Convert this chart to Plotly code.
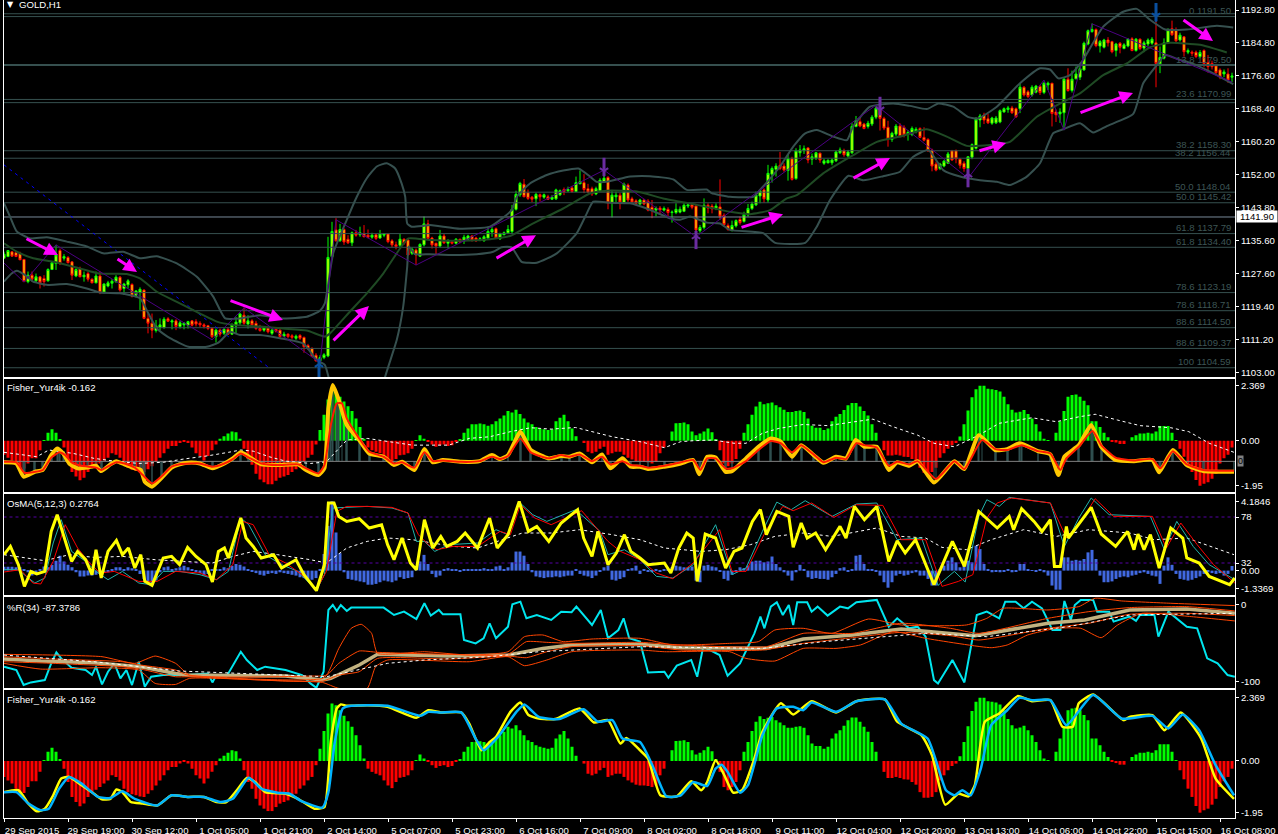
import plotly.graph_objects as go

W, H = 1278, 834
FONT = "Liberation Sans"
SLATE = "#36504f"
TXT = 9.6

time_labels = ["29 Sep 2015", "29 Sep 19:00", "30 Sep 12:00", "1 Oct 05:00", "1 Oct 21:00", "2 Oct 14:00", "5 Oct 07:00",
               "5 Oct 23:00", "6 Oct 16:00", "7 Oct 09:00", "8 Oct 02:00", "8 Oct 18:00", "9 Oct 11:00", "12 Oct 04:00",
               "12 Oct 20:00", "13 Oct 13:00", "14 Oct 06:00", "14 Oct 22:00", "15 Oct 15:00", "16 Oct 08:00"]
time_ticks = [0, 16, 32, 48, 64, 80, 96, 112, 128, 144, 160, 176, 192, 208, 224, 240, 256, 272, 288, 304]

directions = ("GGRRRRGRGR" "RGGGRGRRGR" "GRRGRGGGGR" "GGRGGRRRGG" "GRGRGGGRRR" "RRRGRGRGGG" "RGRRRGRGRR" "GRRGRRRRRG"
              "GGGRGRRGRG" "RRGRGGRRRG" "RRGRGGRRRG" "RGRGRGGRRG" "GGGRGGGGGG" "RRRGRGRGGG" "RGRGGRRRGG" "GRGGRGRRRG"
              "RRRGRGRGGG" "GGRRGGRRGR" "RRGGRGGGGG" "RGGGRRGRGG" "GRGGRGGGGG" "RGGGRRGGGR" "RRGGRRGGGR" "RRRRGGGRRR"
              "RGGGGRRGGG" "GGRRGRRGGR" "GGRRGGRGGG" "GGGRGGRRGR" "GGRGRGGGRG" "GGRRGRGRRG" "RRRRRGRG")
body_tops = [1132.7,1133.6,1133.3,1133.1,1132.9,1131.4,1127.5,1127.5,1127.1,1127.1,
 1126.7,1128.9,1130.6,1132.5,1133.6,1132.1,1131.9,1130.8,1128.9,1129.2,
 1127.5,1127.9,1126.5,1127.3,1127.3,1125.3,1125.6,1126,1127,1127,
 1125.3,1126.1,1125.2,1123.6,1124,1123.8,1116.8,1115.6,1114.9,1115.2,
 1116.6,1116.7,1116.2,1116.2,1115.7,1115.6,1116,1116.2,1116,1115.6,
 1115.2,1115,1114.3,1113.9,1113.9,1114.1,1114.1,1115.2,1115.9,1117.9,
 1117.6,1116.2,1116.2,1115.6,1114.3,1114.6,1114.4,1113.9,1114.1,1113.9,
 1112.9,1112.9,1112.5,1112.4,1112.6,1112.1,1110.1,1109.4,1107.7,1107.1,
 1107.8,1131.9,1138.3,1138.7,1138.8,1138.8,1136.4,1138,1138,1138,
 1137.7,1137.4,1137.4,1137.5,1137.7,1137.7,1137.7,1136,1135,1136.4,
 1136.4,1136.2,1133.9,1133.7,1135.1,1140.2,1140.2,1136.7,1135.4,1137.2,
 1137.2,1136,1135.8,1136.4,1136.4,1136.9,1137.2,1137.2,1136.7,1136.5,
 1137,1138.3,1138.8,1139,1137.7,1138,1138.8,1143.8,1147.5,1150.2,
 1150,1147.9,1146.8,1147.5,1147.4,1147.4,1146.9,1146.8,1148.6,1148.4,
 1148.7,1148.7,1149.1,1150.4,1150.6,1150.4,1148.9,1148.9,1148.9,1151,
 1151.5,1151.7,1147.3,1147.3,1147.3,1150,1149.8,1146.4,1145.9,1146.1,
 1146.1,1145.8,1144.3,1144.1,1144.1,1144,1143.8,1143.1,1143.8,1143.8,
 1144.8,1144.9,1144.9,1144.6,1139.3,1144.8,1144.8,1144.6,1144.6,1144.4,
 1142.3,1139.8,1139.8,1141,1141.3,1142.5,1144,1145.1,1147.3,1148.4,
 1148.6,1152.7,1153.9,1154.5,1154.7,1154.5,1156.3,1156.3,1158.3,1158.5,
 1158.8,1159,1156.8,1157.8,1157.7,1155.8,1155.9,1156,1158,1158.5,
 1158.3,1158,1164.3,1165.7,1165.5,1164.9,1165.1,1166.6,1168.8,1168.8,
 1166.3,1164.1,1162.6,1164.4,1164.4,1164.1,1162.8,1163.8,1163.6,1163.8,
 1161.6,1161.1,1158.5,1155,1155,1155.7,1157.5,1158.3,1158.3,1156.2,
 1155.2,1156.8,1159.8,1166.1,1166.9,1167.1,1166.2,1166.4,1166.4,1168.2,
 1168.7,1168.9,1168.9,1168.7,1174,1174,1172.9,1174,1174.3,1174.2,
 1175,1175,1175,1167.9,1167.9,1176,1176,1176,1177.3,1178.6,
 1184.9,1188,1188.3,1188.3,1185.3,1185.7,1185.7,1185.3,1184.7,1184.9,
 1184.5,1185.9,1186,1185.9,1185.9,1185,1185.7,1185.9,1185,1181.4,
 1185,1188.2,1188.5,1188.3,1186.9,1186.5,1183.1,1182.7,1182.7,1182.6,
 1183.1,1180.1,1179.9,1179.3,1178.3,1177.8,1177.3,1176.8]
body_bottoms = [1131.7,1132.1,1132.2,1132.1,1131.3,1125.9,1125.9,1126.5,1126.1,1125.6,
 1125.9,1126.1,1128.9,1130.4,1130.4,1131.7,1130.6,1127.5,1127.3,1127.1,
 1127.1,1126.5,1125.6,1125.6,1123.2,1123.3,1124.8,1125.5,1125.9,1123.8,
 1124.2,1125.1,1122.3,1122.5,1123.3,1116.8,1115.6,1113.9,1113.8,1114.6,
 1114.5,1116.1,1115.9,1114.8,1114.8,1115.2,1115.1,1115.1,1115.4,1115.2,
 1114.8,1114.3,1112.3,1112.3,1112.9,1113.1,1112.9,1112.9,1114.9,1115.7,
 1115.6,1115.4,1115.2,1114.3,1113.8,1113.9,1113.5,1113.1,1113.6,1112.3,
 1112.4,1112.3,1112.1,1111.9,1111.9,1109.8,1109.3,1107.5,1106.3,1106.3,
 1107.1,1107.5,1132.1,1136,1136,1135.7,1135.5,1135.5,1137.4,1137.5,
 1137,1136.9,1136.9,1136.6,1136.7,1137.4,1135.8,1135,1134.6,1134.9,
 1135.4,1132.5,1132.9,1132.5,1132.2,1135,1136.6,1135,1134.7,1134.7,
 1135.5,1135.4,1135.4,1135.4,1135.7,1135.9,1136.4,1136.2,1136,1136.2,
 1136,1136.7,1138.2,1136.7,1136.5,1137.5,1138,1138.3,1143.8,1147.4,
 1146.9,1146.5,1146.3,1146.4,1146.9,1146.8,1146.3,1146.3,1146.4,1147.4,
 1148.2,1148.4,1148.2,1148.2,1150.1,1148.7,1148.1,1147.6,1147.6,1148.4,
 1150.6,1145.4,1145.4,1146.9,1145.6,1145.4,1146.1,1145.6,1145.3,1145.1,
 1145.1,1143.6,1143.5,1143.6,1143.6,1143.6,1143,1143,1143,1143.1,
 1143.3,1144.6,1144.3,1138.7,1138.5,1139.3,1144.1,1143.9,1144.1,1142.1,
 1140,1138.8,1138.5,1139.7,1140.5,1140.8,1142.4,1144,1144.9,1147.1,
 1146.4,1146.1,1152.5,1153.7,1153.9,1153.5,1153.4,1151.2,1151.4,1157.8,
 1158.3,1156,1156.2,1156.5,1156,1155.2,1155.3,1155.3,1155.8,1157.8,
 1157.3,1157,1157.8,1164.3,1164.4,1163.8,1164.3,1164.9,1166.6,1166.3,
 1163.9,1161.2,1161.1,1162.4,1161.8,1162.2,1162.4,1162.3,1163,1161.6,
 1160.9,1158.3,1154.5,1153.5,1153.9,1154.5,1155.2,1156,1156.3,1154.7,
 1153.9,1153.9,1156.7,1158.9,1165.9,1165.9,1165.2,1165.1,1165.2,1165.4,
 1167.9,1168.5,1167.7,1166.7,1168.7,1172.1,1171.7,1172.1,1172.8,1172.7,
 1172.7,1174.6,1167.5,1167.2,1167.4,1167.7,1173.2,1173.2,1176.1,1176.5,
 1178.3,1184.7,1187.8,1184.3,1184.2,1183.9,1185,1182.8,1183.1,1183.9,
 1183.6,1184.2,1183.1,1183.1,1183.6,1183.7,1184.7,1184.9,1179.9,1179.8,
 1181.2,1184.9,1187,1185.5,1185.7,1182.8,1182.7,1182.4,1181.6,1181.6,
 1179.9,1179.1,1179.1,1177.6,1176.5,1177.3,1175.8,1176.5]
highs = [1133.3,1133.7,1133.3,1133.1,1133.3,1131.4,1128.4,1128.4,1127.9,1127.3,
 1127.5,1129.2,1130.8,1135,1134.1,1132.7,1132.2,1130.8,1129.2,1129.6,
 1128.4,1128.4,1126.7,1128.4,1128.4,1125.5,1126.1,1126.5,1127.5,1127.3,
 1125.6,1126.5,1125.5,1123.8,1124.5,1124,1118,1118,1116.4,1116.8,
 1117.1,1117.1,1116.6,1116.6,1116.2,1115.9,1116.2,1116.4,1116.6,1116.1,
 1115.6,1115.2,1114.6,1114.3,1114.3,1114.6,1114.6,1115.6,1117.2,1118.2,
 1119.5,1117.6,1116.6,1116.2,1115.2,1114.9,1114.8,1114.3,1114.3,1114.1,
 1113.5,1113.1,1112.9,1112.8,1112.9,1112.3,1110.5,1109.6,1108.2,1107.7,
 1108.2,1137,1140.7,1141.6,1140.2,1139.1,1137.4,1138.3,1138.7,1139.5,
 1139.9,1138.8,1138,1137.9,1138.7,1137.9,1137.9,1136.4,1135.8,1137.7,
 1136.6,1136.4,1134.4,1134.1,1135.4,1142,1141.2,1137,1135.5,1138.7,
 1137.7,1136.4,1136,1136.7,1136.5,1137.5,1137.5,1137.4,1137,1136.9,
 1137.4,1139.5,1139.8,1139.3,1138,1138.3,1139.9,1144.9,1148.4,1150.6,
 1151.3,1148.7,1147.1,1147.9,1147.7,1147.7,1147.4,1147.3,1148.9,1148.7,
 1149.2,1149.4,1149.6,1151.9,1153.4,1152.5,1150.1,1149.4,1149.4,1151.5,
 1153.5,1152,1148.6,1148.2,1147.9,1150.4,1150.2,1146.9,1146.3,1146.4,
 1146.4,1146.3,1146.1,1144.5,1144.6,1144.5,1144.3,1143.5,1145.3,1144.5,
 1145.3,1145.4,1145.3,1145.1,1139.9,1146.5,1145.3,1145.1,1145.3,1151.2,
 1142.8,1140.3,1141,1141.3,1142,1143.2,1145.1,1145.7,1148.2,1148.7,
 1149,1154.8,1154.4,1155.2,1158,1155.2,1157.5,1156.8,1158.9,1159.7,
 1159.6,1159.1,1157.6,1158,1157.8,1156.3,1156.2,1156.4,1158.3,1159.1,
 1158.8,1158.5,1165.1,1166.9,1166.7,1165.2,1165.7,1167.1,1169.6,1170.4,
 1166.7,1165.7,1163,1164.9,1165.1,1164.6,1163.4,1164.3,1164.1,1164.1,
 1164.1,1161.4,1158.8,1155.6,1155.3,1156,1158,1158.5,1158.6,1156.5,
 1155.7,1157,1160.1,1166.6,1167.4,1167.7,1167.4,1166.7,1166.9,1168.5,
 1169,1169.4,1169.4,1169,1174.8,1174.3,1173.3,1174.5,1174.6,1174.6,
 1175.4,1175.4,1175.1,1168.5,1168.8,1176.5,1178.7,1178.1,1179.1,1179.3,
 1185.3,1188.3,1189.8,1188.6,1185.7,1186,1186.4,1185.5,1185,1185.2,
 1184.9,1186.2,1186.4,1186.2,1186.1,1185.5,1186.1,1186.4,1191.8,1184.1,
 1186.1,1188.6,1190.5,1188.8,1187.5,1186.7,1183.6,1183.1,1183.1,1183.2,
 1183.4,1182,1180.6,1179.8,1178.7,1178.4,1178.7,1177.6]
lows = [1131.7,1132.1,1132.2,1132.1,1131.3,1125.9,1125.5,1125.9,1125.6,1124.2,
 1124.7,1125.9,1128.8,1128.8,1130,1131.1,1130.4,1126.3,1127,1127,
 1125.9,1125.9,1125.5,1125.5,1122.8,1123,1124.5,1124.2,1125.6,1123.4,
 1122.6,1124.2,1122,1122,1118.9,1116.6,1113.1,1111.9,1113.3,1113.9,
 1114.3,1116,1114.1,1113.9,1114.3,1114.1,1114.3,1114.8,1114.8,1114.6,
 1114.3,1113.9,1111.9,1110.8,1112.3,1112.7,1112.7,1112.7,1113.1,1115.2,
 1115.2,1114.3,1114.6,1113.9,1113.5,1113.5,1113.1,1112.7,1113.3,1111.9,
 1112.1,1111.9,1111.6,1111.5,1111.5,1108.3,1109,1107.2,1106.1,1104.9,
 1106.7,1107.2,1131.7,1135.8,1135.8,1135,1135.2,1134.7,1137,1137,
 1136.9,1136.6,1136.5,1136.2,1136.5,1136.9,1135.4,1134.4,1133.9,1134.4,
 1135,1132.5,1132.5,1130,1132.1,1134.6,1136.4,1134.1,1132.5,1134.4,
 1135.2,1134.1,1135.1,1135.1,1135.4,1135.2,1136,1135.8,1135.7,1135.9,
 1135.8,1136.4,1137,1136.5,1136.2,1137.4,1137.7,1137.7,1143.5,1146.9,
 1146.8,1146.1,1145.6,1144.6,1145.7,1146.4,1146.1,1146.1,1146.1,1147.1,
 1147.3,1148.1,1147.9,1148.1,1150.1,1147.8,1147.8,1147.1,1147.3,1148.2,
 1150.6,1143.8,1141.8,1145.1,1143.8,1145.1,1145.6,1145.3,1145.1,1144.9,
 1144.8,1143.3,1141.6,1142.1,1142.5,1143.3,1142,1140.5,1142.6,1142.8,
 1143.1,1144.1,1143.8,1137.9,1138,1138.8,1142.8,1142.8,1143.6,1141.2,
 1139.5,1138.5,1138.4,1139.3,1140,1140.5,1142,1143.6,1144.6,1145.3,
 1145.4,1145.4,1150.4,1151.9,1153.5,1153.1,1150.9,1150.9,1151.1,1156.8,
 1157.5,1155.2,1154.8,1156,1155.3,1154.8,1155.2,1154.7,1155.5,1157.5,
 1156.8,1156.7,1157.5,1164.1,1164.1,1163.6,1163.8,1164.4,1166.1,1163.3,
 1163.4,1159.3,1160.5,1161.9,1161.6,1161.6,1160.8,1161.9,1162.6,1161.4,
 1160.6,1158,1153.2,1153.2,1153.5,1154.2,1155,1155.8,1155.2,1153.9,
 1153.1,1151.9,1156.2,1158.6,1164.1,1164.9,1164.9,1164.7,1164.9,1165.1,
 1167.7,1167.7,1167.4,1166.4,1167.6,1171.7,1171.3,1171.7,1172.5,1172.1,
 1172.3,1173.3,1164.3,1165.4,1165.2,1163.4,1172.9,1172.7,1176,1175.8,
 1178.1,1184.4,1187.5,1183.9,1182.6,1183.6,1184.1,1182.4,1181.6,1182.4,
 1183.4,1183.9,1182.9,1182.8,1183.2,1182.7,1184.1,1184.5,1174,1177.5,
 1180.9,1184.7,1186.7,1184.9,1185.3,1181.6,1182.2,1181.7,1181.2,1181.2,
 1178.9,1177.6,1178.4,1177.3,1176,1176.5,1175.1,1175.3]

bb_upper_x = [0,1.5,3.2,6.5,10.7,15.7,20.7,24.8,29.8,34,38.2,43.2,48.2,52.3,55.3,59,64,69.8,75.7,79,80.2,82.3,85.7,88.2,90.7,93.2,95.7,97.8,99.4,100.3,100.8,101.9,104.8,106.5,
 114,121.5,126.9,128.2,131.5,135.7,139.8,143.6,146.5,148.2,150.7,156.5,161.5,167.3,170.7,175.7,176.9,181.5,187.3,189,194,197.3,200.3,203.2,207.3,210.7,212.3,
 216.5,222.3,226.5,230.7,233.6,237.3,241.1,243.6,248.2,254,259,261.5,263.6,266.5,269.8,274.8,279.8,283.2,286.5,290.3,295.7,303.2,307.3]
bb_upper = [1145.3,1142,1138.3,1136.6,1136.9,1135.8,1134.6,1132.9,1133.3,1131.7,1132.2,1130.4,1127.1,1122.2,1116.8,1116.8,1117.6,1116.8,1117.2,1118.7,1120.5,1132.9,1141.2,1146.9,1151.5,1154.4,1155.2,1153.9,1150.2,1146.9,1140.3,1139.5,1139.7,1139.9,
 1139,1139.5,1143.6,1146.9,1150.2,1152.3,1153.4,1153.9,1151.9,1150.6,1150.6,1151.9,1152,1151.2,1148.6,1148.7,1147.8,1146.9,1146.9,1148.6,1154.4,1159.3,1162.6,1163.4,1161.8,1160.9,1164.3,
 1169.2,1170,1169.4,1168.6,1170,1169.2,1166.6,1166.3,1169.2,1175,1178.7,1178.4,1176.2,1177,1180.8,1189,1192.7,1193.4,1190.7,1188.3,1188.3,1189.2,1188.8]
bb_lower_x = [0,1.9,3.2,5.3,7.3,10.7,15.7,20.7,24,29,34,36.1,38.2,41.5,46.1,50.7,53.6,56.5,59,64,69,74.8,78.2,80.2,81.1,85.7,89.8,95.3,98.2,99.8,100.8,101.2,102.7,106.5,
 111.5,118.2,122.3,124.4,126.9,129.4,133.2,138.2,143.2,145.7,147.3,151.5,156.5,160.7,166.5,169,171.5,175.7,179,181.5,189.8,192.8,200.3,203.2,206.5,211.1,
 214.8,219.8,224,227.3,231.1,234.8,239,244,248.2,251.5,255.7,259,262.3,264.8,269,272.3,275.7,282.3,284.8,288.2,290.3,293.6,297.3,304,307.3]
bb_lower = [1125.9,1127.9,1128.6,1127.5,1125.9,1125.1,1125.3,1124.2,1123.2,1123,1121.8,1118,1114.3,1111.9,1109.8,1109.8,1110.8,1113.5,1112.7,1112.7,1111.9,1110.6,1106.5,1105.3,1102.4,1080,1080,1102.4,1111.5,1119.7,1129.6,1134.6,1132.7,1132.7,
 1132.5,1132.7,1133.3,1134.4,1134.4,1130.8,1130.6,1132.9,1137.9,1142.8,1145.7,1145.4,1145.3,1144,1141.6,1141.2,1142,1140.5,1140.3,1138.7,1137.9,1135.5,1135.5,1139.5,1146.1,1152.1,
 1151,1152,1153.1,1156.8,1158.5,1153.5,1151.9,1151,1150.6,1149.8,1151.9,1155.2,1162.6,1163.6,1165.1,1162.8,1164.4,1167.4,1175,1179.5,1182,1180.9,1179.8,1176.6,1174.8]
bb_mid_x = [0,3.2,7.3,12.3,17.3,24,30.7,34,38.2,43.2,49,53.2,57.3,64,69.8,75.7,80.2,81.5,86.5,90.7,94.8,99,101.1,106.5,
 114.8,121.5,126.5,131.5,139.8,146.5,150.7,158.2,164.8,173.2,181.5,186.5,191.5,195.7,198.2,204.8,212.3,
 218.2,224,230.7,235.7,240.7,246.5,251.5,258.2,264.8,269,274.8,280.7,286.5,291.5,299,305.7]
bb_mid = [1135.4,1133.3,1131.7,1130.8,1129.6,1127.9,1127.8,1126.7,1123.4,1120.9,1118,1116,1115.2,1114.8,1114.3,1113.8,1112.3,1113.1,1118.5,1123,1127.9,1134.1,1136.6,1136.2,
 1136,1136.4,1137.2,1139.9,1144,1147.7,1148.4,1148.2,1146.5,1144.9,1143.2,1142.6,1143.6,1146.5,1147.3,1152.7,1157.2,
 1160.5,1161.8,1163.6,1161.8,1159.5,1159.7,1160.5,1166.7,1170.4,1172.5,1177,1179.9,1183.9,1185,1184.5,1182.6]

zigzag_x = [0,5,13,52,60,79,83,103,150,173,218,241,260,265,272,307]
zigzag_y = [1130.5,1125.8,1135,1111.5,1119.4,1105.8,1141.2,1130,1153.5,1137,1169.6,1151.5,1175.8,1163.4,1189.7,1175.3]
trend_x = [0, 66]
trend_y = [1154.8, 1104.8]

fib_levels = [1192.2,1191.5,1179.5,1170.99,1170.2,1158.3,1156.44,1148.04,1145.42,1137.79,1134.4,1123.19,1118.71,1114.5,1109.37,1104.59]
fib_names = ["","0 1191.50","13.8 1179.50","23.6 1170.99","","38.2 1158.30","38.2 1156.44","50.0 1148.04","50.0 1145.42",
             "61.8 1137.79","61.8 1134.40","78.6 1123.19","78.6 1118.71","88.6 1114.50","88.6 1109.37","100 1104.59"]
last_price = 1141.90
price_ticks = [1193.1,1185,1176.9,1168.8,1160.6,1152.4,1144.3,1136,1127.9,1119.8,1111.6,1103.5]
price_tick_text = ["1192.80","1184.80","1176.60","1168.40","1160.20","1152.00","1143.80","1135.60","1127.60","1119.40","1111.20","1103.00"]

arrow_x0 = [5.25,28,56.25,82,122.75,184,212,243.5,268.75,294.5]
arrow_y0 = [1136.7,1131.75,1121.35,1111,1131.5,1139.2,1151.3,1158.2,1167.6,1190.9]
arrow_x1 = [13.5,33.25,69.75,91.25,133,194.75,221.5,250.5,282.25,302.25]
arrow_y1 = [1132.5,1128.3,1116.4,1119.9,1137.4,1142.6,1156.5,1160.2,1172.6,1185.45]

up_arrows_x = [78.75,173,241]
up_arrows_y = [1104.5,1136.2,1151.5]
up_arrows_color = ["#0a4f9e","#6a2ca0","#6a2ca0"]
down_arrows_x = [150,219,288]
down_arrows_y = [1154.3,1169.4,1192.6]
down_arrows_color = ["#6a2ca0","#6a2ca0","#0a4f9e"]

fisher_hist = [-0.60,-0.73,-0.85,-1.04,-1.20,-1.20,-0.98,-0.76,-0.76,-0.41,0.02,0.34,0.49,0.34,0.06,
 -.29,-.79,-1.35,-1.54,-1.70,-1.60,-1.35,-1.17,-1.08,-.98,-.85,-.73,-.54,-.60,-.73,-1.04,-1.17,-1.25,-1.29,-1.33,-1.35,-1.23,-1.10,-.92,-.73,-.54,-.35,-.23,-.23,-.10,-.04,-.10,-.29,-.54,-.66,-.85,-.66,-.41,-.16,
 0.09,0.19,0.31,0.40,0.36,0.09,
 -0.35,-0.79,-1.04,-1.42,-1.67,-1.79,-1.88,-1.88,-1.73,-1.60,-1.54,-1.48,-1.35,-1.23,-1.04,-0.92,-0.73,-0.60,-0.16,
 0.46,1.12,1.78,2.15,2.09,1.90,1.69,1.49,1.28,0.96,0.59,0.09,
 -0.29,-0.41,-0.48,-0.54,-0.73,-0.92,-1.02,-0.79,-0.63,-0.60,-0.54,-0.35,
 0.03,0.24,0.09,
 -0.04,-0.16,-0.26,-0.19,-0.16,-0.23,-0.19,-0.04,
 .06,.34,.53,.71,.71,.74,.71,.65,.71,.84,.96,1.09,1.28,1.22,1.34,1.15,.96,.78,.71,.59,.53,.49,.46,.49,.84,.99,1.12,.84,.53,.19,0,
 -0.10,-0.48,-0.54,-0.48,-0.35,-0.26,-0.60,-0.54,-0.48,-0.48,-0.60,-0.73,-0.81,-0.89,-0.92,
 -0.92,-0.94,-0.98,-0.92,-0.54,-0.29,
 0.0,0.40,0.75,0.76,0.78,0.71,0.40,0.24,0.31,0.40,0.53,0.36,0.06,
 -0.41,-0.98,-1.10,-0.98,-0.79,-0.35,
 .34,.71,1.12,1.47,1.68,1.57,1.62,1.65,1.53,1.44,1.34,1.24,1.24,1.28,1.30,1.24,.96,.65,.56,.56,.46,.53,.84,1.03,1.15,1.32,1.53,1.63,1.63,1.47,1.28,1.09,.71,.34,
 0.0,
 -.41,-.64,-.64,-.60,-.64,-.69,-.70,-.79,-.89,-1.17,-1.38,-1.38,-1.35,-1.17,-.73,-.54,-.35,-.19,-.10,
 .18,.71,1.30,1.87,2.22,2.37,2.37,2.24,2.22,2.19,2.12,1.90,1.57,1.34,1.22,1.25,1.32,1.15,.96,.71,.40,.09,.03,0,.34,.84,1.28,1.90,1.97,1.99,1.90,1.72,1.53,.84,.84,.59,.34,.15,
 -.03,-.08,-.14,-.14,0,
 .15,.24,.31,.31,.34,.31,.40,.63,.63,.63,.34,.03,
 -.35,-.69,-1.04,-1.35,-1.69,-1.94,-1.85,-1.79,-1.64,-1.42,-.98,-.76,-.60,-.29]

fisher_yellow_x = [0,3.1,4.9,7.7,9.7,11.8,13.3,14.8,16.3,18.4,20.9,23,24.3,26.6,28.1,30.1,32.7,34.2,35.2,37,39.3,41.9,43.9,45.9,49,52.1,55.1,57.2,59.2,61.2,64.3,68.4,73.5,75.5,78.6,80.1,81.1,82.2,83.7,85.7,88.8,91.3,94.9,97.5,99.5,102.6,105.1,107.2,109.7,114.3,118.9,122,124,126,129.1,131.7,136.2,139.3,141.3,143.9,147,149.5,151.6,154.6,156.7,159,
 161,165.1,169.2,172.3,173.8,175.8,177.9,180.4,182,185.5,188.6,191.7,194.2,197,199.3,202.4,204.9,208,210.5,212.9,215.1,218.2,221.2,223.3,226.3,228.4,232.5,237.6,240.1,243.7,247.8,250.8,253.9,258.5,261.6,263.6,265.1,268.7,271.8,274.3,277.9,282.5,287.1,288.8,292.2,295.7,299.8,307.5]
fisher_yellow = [-.93,-.98,-1.55,-1.34,-1.26,-.62,-.33,-.55,-.98,-1.19,-1.16,-1.08,-1.31,-1.02,-.88,-1.02,-1.19,-1.26,-1.77,-1.98,-1.62,-1.16,-1.02,-.95,-.98,-1.19,-.98,-.76,-.5,-.69,-1.02,-1.05,-1.02,-1.26,-1.48,-1.19,1.39,2.4,1.75,.68,.03,-.55,-.69,-1.05,-.91,-1.26,-.36,-.93,-.83,-.91,-.88,-.62,-.79,-.62,.39,-.4,-.76,-.66,-.69,-.55,-.93,-.59,-1.19,-.76,-1.12,-1.12,
 -1.22,-1.12,-.98,-.83,-1.45,-.69,-.72,-1.34,-1.31,-.76,-.26,.1,-.04,-.69,-.19,-.62,-.95,-.69,-.76,.03,-.26,-.26,-1.26,-.93,-1.08,-.88,-1.8,-.88,-1.22,.24,-.4,-.36,-.11,-.45,-.59,-1.48,-.69,-.19,.68,-.26,-.83,-.88,-.83,-1.36,-.4,-1.05,-1.31,-1.34]
fisher_red_x = [0,3.1,5.1,7.7,9.7,11.8,13.8,15.3,16.9,19.4,23,24.3,26.6,28.1,30.1,32.7,34.7,37,39.3,41.9,43.9,49,52.1,55.1,57.2,59.2,61.2,64.3,68.4,73.5,75.5,78.6,80.1,81.7,83.2,84.5,85.7,88.8,91.3,94.9,97.5,99.5,102.6,105.1,107.2,109.7,114.3,118.9,122,124,126,129.1,131.7,136.2,139.3,141.3,143.9,147,149.5,151.6,154.6,156.7,159,
 161,165.1,169.2,172.3,174.1,175.8,177.9,180.4,182,185.5,188.6,191.7,194.2,197,199.3,202.4,204.9,208,210.5,213.1,215.1,218.2,221.2,223.3,226.3,228.4,233,237.6,240.1,244.5,247.8,250.8,254.4,258.5,261.6,264.1,265.6,268.7,272.1,274.3,277.9,282.5,287.1,289.1,292.2,295.7,299.8,307.5]
fisher_red = [-.91,-.93,-1.38,-1.34,-1.26,-.73,-.5,-.62,-.93,-1.08,-1.16,-1.26,-1.05,-.93,-.98,-1.16,-1.48,-1.84,-1.55,-1.12,-1.01,-.98,-1.12,-.98,-.79,-.55,-.73,-.98,-1.05,-1.02,-1.19,-1.41,-1.05,.68,1.61,1.61,.96,.1,-.47,-.69,-.98,-.93,-1.16,-.5,-.88,-.85,-.91,-.88,-.69,-.79,-.66,.1,-.5,-.76,-.62,-.69,-.59,-.88,-.69,-1.02,-.88,-1.05,-1.08,
 -1.16,-1.08,-.93,-.83,-1.26,-.76,-.76,-1.19,-1.19,-.88,-.4,-.01,-.11,-.5,-.19,-.59,-.93,-.73,-.79,-.11,-.19,-.3,-1.08,-.91,-1.02,-.88,-1.65,-.88,-1.22,.03,-.36,-.4,-.19,-.45,-.55,-1.26,-.76,-.26,.42,-.19,-.73,-.85,-.79,-1.19,-.45,-1.02,-1.26,-1.29]
fisher_dots_x = [0,4.1,8.2,11.2,13.8,17.4,22.5,27.6,33.7,39.8,44.9,51,56.1,59.2,62.3,66.3,70.4,76.6,80.6,85.7,90.8,95.9,102.1,111.2,116.3,121.4,126.6,131.7,136.8,142.9,147,152.1,159,
 165.1,169.2,172.3,177.4,182.5,185.5,189.6,193.7,199.8,205.9,212.1,217.2,222.3,228.4,232.5,237.6,243.7,248.8,257,263.1,268.7,272.8,278.4,284,291.7,296.2,301.3,307.5]
fisher_dots = [-.5,-.59,-.69,-.4,-.45,-.55,-.76,-.88,-.98,-.93,-.79,-.65,-.5,-.4,-.45,-.69,-.88,-.98,-.91,.03,.1,-.04,-.19,-.19,.1,.17,.39,.56,.5,.57,.39,.17,-.04,
 -.3,-.04,0,.03,-.11,-.11,.32,.53,.7,.65,.82,.93,.6,.24,-.11,-.26,.24,.75,.99,.82,1.03,1.14,.89,.65,.56,.39,-.11,-.5]
fisher_base = -0.89

osma_hist = [.24,.24,.24,.2,.2,.1,-.1,-.3,-.2,.1,.25,.2,.35,.6,.9,.55,.35,.2,-.1,-.35,
 -.35,-.3,-.3,-.25,-.2,-.15,-.1,.1,.2,.2,.1,.2,.15,.05,-.2,-.5,-.7,-.9,-.6,-.1,
 .2,.25,.1,.15,.2,.3,.2,.1,-.05,-.15,-.3,-.2,.05,.1,.1,.2,.15,.3,.4,.35,
 .25,.1,-.05,-.15,-.25,-.3,-.2,-.15,-.2,-.1,-.15,-.2,-.25,-.3,-.4,-.45,-.5,-.55,-.45,.1,
 1.0,2.7,4.18,2.3,1.05,-.1,-.5,-.55,-.6,-.65,-.7,-.85,-.85,-.8,-.7,-.6,-.65,-.7,-.6,-.4,
 -.5,-.45,-.4,.2,.55,.95,.4,-.2,-.4,-.3,.1,.15,.1,.05,-.05,.05,.1,.05,.1,.1,
 .15,.05,.1,.25,.3,.1,.2,.5,1.15,1.15,.9,.4,-.1,-.35,-.4,-.45,-.4,-.4,-.35,-.4,
 -.35,-.3,-.3,.1,-.2,-.3,-.35,-.45,-.3,-.05,.2,.3,-.55,-.6,-.5,-.4,.05,.15,.3,-.2,
 .05,-.05,-.1,.1,-.05,.05,.1,.2,.3,.25,.2,.2,.25,-.6,-.7,.3,.35,.25,.2,-.05,
 -.5,-.6,-.25,-.1,.2,.15,.3,.55,.6,.6,.5,.55,.85,.4,.2,-.1,-.3,-.6,-.1,.35,
 .1,-.4,-.5,-.45,-.5,-.5,-.55,-.4,-.2,.15,.2,-.05,.1,.9,.95,.4,.1,.05,-.05,-.3,
 -.7,-1.03,-.7,-.3,-.2,-.3,-.25,-.15,-.1,-.3,-.3,-.5,-.9,-.9,.05,.3,.6,.8,.5,.2,
 .6,.6,.5,1.5,1.3,.4,.1,-.1,-.05,-.1,-.05,.05,-.1,-.05,.4,.4,.05,-.02,-.05,.05,
 -.1,-.3,-.9,-1.15,-1.15,.8,.8,.6,.65,.6,.7,1.1,1.25,.7,-.3,-.7,-.7,-.65,-.5,-.4,
 -.35,-.4,-.3,-.25,-.15,-.1,-.2,-.3,-.35,-.8,.3,.8,.35,-.2,-.5,-.55,-.6,-.55,-.45,-.35,
 -.2,-.1,-.15,-.2,-.15,-.3,-.2,.28]
stoch_yellow_x = [0,1.6,3.6,5.1,6.7,8.2,10.2,11.8,13.3,14.8,16.9,18.4,20.4,22,23,24.3,26,28.1,29.6,31.1,32.7,34.2,35.2,37,39.8,41.9,43.9,45.9,48,50.5,52.1,53.6,55.1,56.1,59.2,60.5,62.3,64.3,67.4,69.4,73,75,78.1,80.1,81.1,82.5,83.7,85.7,88.8,91.3,94.4,95.9,97.5,99.5,101.6,103.1,105.1,107.2,109.2,110.7,113.3,115.3,118.4,121.4,123.3,126,128.8,131.1,133.2,136.2,139.3,143.4,144.9,147,148.5,151,153.1,155.1,156.7,159,
 161,165.1,166.7,168.7,170.7,172.3,173.3,175.3,177.9,180.4,182.5,184.5,187.1,189.1,190.6,193.2,196.2,197.3,199.3,200.8,202.9,205.4,209,210.5,212.6,215.1,218.2,221.2,223.3,225.3,227.9,232.5,237.1,240.1,243.7,248.3,251.3,252.4,254.4,257.5,259.5,261.6,262.6,264.1,265.6,266.1,271.8,274.3,277.9,280.9,282.5,283.5,285,286.6,288.8,291.7,294.7,295.7,298.8,301.3,306.4,307.7]
stoch_yellow = [40.3,48.6,30.3,8.6,23.6,21,23.6,63.6,80.3,60.3,33.6,43.6,35.3,20.3,45.3,17,43.6,54.6,40.3,47,27,40.3,13.6,9.6,37,38.6,30.3,47.6,38.6,30.3,13,43.6,47,37,77,57,48.6,37,40.3,27,35.3,20.3,4.3,30.3,92,92,78.6,73.6,76.3,67,70.3,50.3,35.3,57,32,25.3,75.3,47,58.6,48.6,53.6,62,47,77,47,60.3,93.6,63.6,68.6,53.6,72,85.3,57,38.6,63.6,30.3,42,60.3,43.6,37,
 30.3,32,22,47,62,57,13.6,61,57,27,43.6,47,73.6,85.3,60.3,83.6,78.6,47.6,72,57,62,45.3,68.6,57,88.6,75.3,88.6,33.6,54.3,42,55.3,10.3,53.6,28.6,83.6,67,78.6,65.3,86.3,73.6,63.6,75.3,28.6,28.6,68.6,57,87.6,61,48.6,63.6,45.3,61,45.3,60.3,27,67,57,37,32,18.6,10.3,17]
stoch_teal_x = [0,3.6,5.6,7.7,10.2,12.3,14.3,16.9,20.4,23,26,29.6,33.7,36.8,39.8,43.9,49,53.1,56.1,59.2,61.2,65.3,69.4,73.5,78.1,80.1,82.2,85.7,90.8,97,101,103.1,105.1,107.7,111.2,118.4,123,126,128.8,132.2,135.7,142.9,149,151,155.1,159,
 163.1,167.2,172.3,177.9,182,185.5,189.6,193.2,196.8,200.3,207,213.1,218.2,223.3,229.4,233.5,237.6,240.3,243.7,245.7,248.8,251.3,259,261.6,265.1,268.7,271.8,276.3,286.6,290.1,293.2,297.3,301.3,307.7]
stoch_teal = [25.3,25.3,18.6,12,17,52,75.3,43.6,33.6,23.6,15.3,23.6,12,10.3,23.6,23.6,20.3,15.3,23.6,77,70.3,40.3,30.3,23.6,4.3,20.3,87,87.6,88.6,87,82,53.6,53.6,43.6,50.3,52,65.3,60.3,92.9,80.3,73.6,85.3,63.6,40.3,45.3,35.3,
 18.6,17,30.3,70.3,20.3,27,63.6,92.9,85.3,94.3,78.6,91,92,55.3,57,9.6,23.6,13,78.6,95.3,88.6,97.6,92.9,92,48.6,77,97,80.3,78.6,45.3,73.6,48.6,30.3,15.3]
stoch_red_x = [0,4.1,7.2,9.2,12.3,15.3,18.4,21.4,24,27.6,33.7,38.3,42.9,49,53.1,57.2,59.7,62.3,66.3,70.4,74.5,78.1,80.6,83.2,85.7,90.8,97,101,103.6,106.1,108.2,112.3,118.4,124,126.6,129.1,132.7,136.8,144.4,151,154.1,159,
 163.1,167.2,172.3,178.9,182,185.5,190.6,194.7,197.3,201.9,207.5,213.1,219.7,224.3,230.4,234.5,238.6,242.2,245.7,248.3,251.9,259,261.6,265.6,269.2,272.8,277.4,287.1,290.6,294.2,298.3,302.4,307.7]
stoch_red = [23,25.3,12,11,33.6,70.3,47,32,22,23.6,13.6,13.6,23.6,22,15.3,30.3,73.6,70.3,40.3,32,20.3,5.3,23.6,83.6,88.6,88.6,87.6,82,60.3,50.3,45.3,48.6,48.6,63.6,60.3,90.3,77,70.3,84.3,53.6,43.6,35.3,
 22,16.3,32,65.3,23.6,23.6,65.3,88.6,84.3,92,77.6,90.3,89.6,55.3,55.3,8.6,13.6,20.3,77,92,97,92.9,92,57,73.6,96.3,78.6,78.6,47,72,50.3,30.3,12]
stoch_dots_x = [0,4.1,10.2,16.3,22.5,29.6,37.8,44.9,52.1,57.2,62.3,68.4,76.6,80.6,85.7,90.8,95.9,102.1,107.2,112.3,118.4,123.5,129.6,136.8,143.9,152.1,159,
 165.1,169.2,174.3,180.4,186.6,192.7,199.8,207,214.1,218.2,224.3,230.4,234.5,240.6,246.8,254.9,263.1,271.2,281.4,287.6,295.7,301.9,307.5]
stoch_dots = [40.3,37.6,34.3,40.3,37.6,38.6,35.3,33.6,32,38.6,43.6,40.3,35.3,32,47,53.6,57,55.3,52,48.6,47,53.6,62,62,65.3,60.3,55.3,
 47,45.3,43.6,45.3,50.3,58.6,62,58.6,63.6,67,58.6,57,47.6,45.3,55.3,65.3,58.6,65.3,62,55.3,57,48.6,40.3]
stoch_levels = [78, 32]

wpr_cyan_x = [0,3.1,4.9,6.7,10.2,11.8,13.1,14.3,16.9,20.4,22,23,24.5,26,27.6,29.1,30.6,32,33.7,35.2,36.8,39.8,45.9,51,52.1,53.1,55.6,57.2,59.2,60.7,63.3,65.3,70.4,74.5,76.6,78.1,79.9,81.1,82.2,83.2,84.2,85.7,86.8,94.9,97.5,100,103.1,105.1,106.7,108.7,109.7,114.1,115,117.9,119.9,121.4,123,126,127.1,129.1,130.6,133.2,136.8,139.3,141.9,143.1,147,149.2,151,153.6,154.9,156.3,159,
 161,165.1,166.1,168.2,171.8,173.3,174.8,178.9,180.9,184,187.6,189.1,190.1,191.7,193.2,194.7,196.2,197.3,198.3,200.8,201.9,203.4,205.9,209,211,213.1,218.2,221.2,223.3,226.3,228.4,230.4,232.5,233.5,237.1,240.1,243.2,245.7,248.8,250.3,252.9,254.9,257,259.5,262.1,264.1,265.1,266.7,267.7,269.2,272.3,273.3,276.3,277.4,281.4,283,284,287.6,288.6,291.1,295.7,298.3,300.8,303.4,305.9,307.7]
wpr_cyan = [-80.5,-84.8,-104.2,-100.8,-97.8,-76.2,-62,-69.8,-81.8,-84.8,-91.3,-80.5,-103.4,-87,-76.2,-95.6,-84.8,-104.2,-74.1,-106.4,-93.5,-91.3,-91.3,-89.2,-100.8,-91.3,-93.5,-78.4,-61.2,-71.9,-84.8,-80.5,-84.8,-91.3,-102.1,-107.7,-87,-7.3,-.9,-8.6,-.9,-8.6,-4.3,-4.3,-13.8,-9.5,-19,1.3,-14.6,-7.3,-12.9,-12.9,-46.1,-50.4,-43.9,-24.5,-43.9,-28.9,0,3.4,-18.1,-13.8,-20.2,-9.5,-10.3,-3,-26.7,-7.3,-43.9,-33.2,-18.1,-43.9,-48.2,
 -87.9,-87,-94.8,-79.2,-71.9,-93.5,-54.7,-65.5,-92.2,-76.2,-37.5,-15.9,-31,-3,2.6,-13.8,-.9,-26.7,2.6,2.6,-9.5,-3,-14.6,-3,-5.2,2.6,5.6,-28.9,-18.1,-31,-28.9,-41.8,-97.8,-102.1,-71.9,-100.8,-13.8,-9.5,-18.1,3.4,3.4,-5.2,3.4,-5.2,-33.2,-33.2,4.3,-20.2,-.9,5.6,5.6,-9.5,-9.5,-22.4,-15.9,-21.5,-13.8,-13.8,-41.8,-9.5,-28.9,-31,-69.8,-76.2,-91.3,-93.5]
wpr_center_x = [0,9.2,22.5,34.2,42.9,45.9,70.4,79.6,81.7,88.8,93.4,111.2,126,134.7,141.9,159,169.2,190.6,199.8,212.1,224.3,242.7,261,270.2,281.4,295.7,307.7]
wpr_center = [-70.6,-73.2,-75.4,-80.5,-89.2,-91.3,-92.6,-97.8,-95.6,-78.4,-64.6,-66.8,-65.5,-56.9,-52.5,-51.7,-56,-56.9,-44.8,-39.6,-31.9,-40.5,-24.5,-20.2,-7.3,-6,-11.6]
wpr_up_outer_x = [0,12.3,24.5,32.7,37.8,42.9,46.4,76.6,80.6,83.7,86.8,89.3,91.9,93.4,105.1,116.3,126,130.1,134.7,139.8,147,159,167.2,181.4,188.6,192.7,199.8,207,216.1,224.3,240.6,245.7,249.8,261,268.7,272.8,279.4,291.7,307.7]
wpr_up_outer = [-64.6,-65.5,-67.6,-76.2,-66.8,-76.2,-91.3,-92.6,-91.3,-56.9,-31,-25.8,-37.5,-63.3,-61.2,-65.5,-61.2,-41.8,-39.6,-48.2,-44.8,-43.9,-52.5,-50.4,-48.2,-33.2,-31,-37.5,-19,-26.7,-26.7,-18.1,-5.2,-7.3,-3,7.8,4.3,1.3,-1.7]
wpr_lo_outer_x = [0,9.2,24.5,33.7,37.8,42.9,46.4,70.4,79.6,83.7,90.8,92.9,95.9,116.3,126,130.1,135.7,141.9,159,165.1,181.4,185.5,192.7,199.8,208,214.1,222.3,230.4,246.8,250.8,255.9,263.1,269.2,274.3,278.4,284.5,296.8,307.7]
wpr_lo_outer = [-76.2,-83.6,-81.8,-84.8,-102.1,-103.4,-95.6,-99.1,-100.8,-108.5,-108.5,-80.5,-71.9,-74.1,-67.6,-79.2,-71.9,-61.2,-59,-61.2,-61.2,-69.8,-73.2,-56.9,-56.9,-52.5,-35.3,-43.9,-56,-52.5,-39.6,-31,-31,-43.1,-26.7,-11.6,-15.9,-21.5]
wpr_up_inner_x = [0,12.3,29.6,34.2,42.9,45.9,79.6,83.7,88.8,93.4,111.2,126,130.6,135.7,141.9,159,169.2,190.6,199.8,212.1,224.3,236.6,243.7,261,271.2,281.4,295.7,307.7]
wpr_up_inner = [-67.6,-70.6,-74.1,-78.4,-84.8,-91.3,-95.6,-76.2,-60.3,-62,-64.6,-64.6,-48.2,-49.1,-50.4,-49.1,-52.5,-54.7,-37.5,-37.5,-24.5,-31,-37.5,-18.1,-9.5,-4.3,-3,-8.6]
wpr_lo_inner_x = [0,12.3,29.6,34.2,42.9,45.9,79.6,83.7,88.8,93.4,111.2,126,130.6,135.7,141.9,159,169.2,189.6,199.8,212.1,224.3,236.6,243.7,261,271.2,281.4,295.7,307.7]
wpr_lo_inner = [-74.1,-76.2,-80.5,-83.6,-93.5,-93.5,-99.1,-91.3,-87,-69.8,-70.6,-66.8,-68.9,-61.2,-54.7,-53.4,-59,-59,-50.4,-43.1,-36.2,-40.5,-46.1,-31,-24.5,-12.9,-11.6,-14.6]
wpr_dots_x = [0,22.5,43.9,80.6,95.9,105.1,121.4,133.7,159,189.6,204.9,230.4,245.7,266.1,281.4,307.7]
wpr_dots = [-65.5,-74.1,-86.1,-93.5,-76.2,-71.9,-67.6,-61.2,-54.7,-56.9,-48.2,-37.5,-41.8,-28.9,-13.8,-11.6]

low_yellow_x = [0,3.6,6.1,8.2,10.2,12.3,14.3,16.3,19.4,22.5,24.5,26.6,28.1,29.6,31.7,34.7,38.3,41.9,45.9,50,53.1,55.6,58.2,60.7,62.8,65.3,70.4,73.5,77.6,80.1,81.7,83.2,84.2,85.7,90.8,95.9,103.1,106.1,109.2,114.3,116.3,119.4,121.4,123,126.6,129.1,131.1,133.7,137.8,143.9,147.5,151,154.1,155.6,159,
 161,164.1,168.2,171.8,174.3,175.8,177.9,179.9,182.3,184.5,187.6,189.6,194.2,197.3,201.9,208,213.1,220.2,223.3,229.4,232,235.3,238.6,241.1,242.7,245.2,248.8,253.4,257,261.6,264.6,267.2,268.7,272.3,279.9,281.4,287.1,290.1,294.2,299.3,302.9,307.5]
low_yellow = [-1.17,-1.1,-1.6,-1.89,-1.79,-1.29,-.66,-.6,-.91,-1.23,-1.44,-1.42,-1.07,-1.17,-1.54,-1.6,-1.67,-1.29,-1.35,-1.35,-1.54,-1.54,-1.1,-.64,-.79,-1.17,-1.23,-1.42,-1.79,-1.73,.71,1.97,2.12,2.07,2.09,2.03,1.62,1.9,1.82,1.82,1.4,.4,.71,.9,1.84,2.19,1.72,1.59,1.57,1.97,1.44,1.53,.65,.86,.4,
 .09,-1.29,-1.33,-.76,-1.1,-.79,.03,-.48,-1.19,-1.1,.09,1.09,2.16,1.74,2.24,1.82,2.24,2.31,1.47,.96,.21,-1.64,-1.23,-1.33,-.91,1.47,1.78,2.43,2.24,2.28,1.28,1.28,2.16,2.49,1.53,1.65,1.72,1.15,1.82,.84,-.66,-1.42]
low_blue_x = [0,3.1,6.1,9.2,11.2,13.8,16.3,19.4,23.5,26.6,29.6,32.7,38.3,41.9,45.9,50,54.1,57.2,61.2,64.3,68.4,71.4,74.5,79.6,81.1,82.7,84.7,86.8,95.9,104.1,106.1,109.2,114.3,117.9,119.9,123.5,128.1,130.1,133.7,138.8,144.9,148.5,152.1,154.6,159,
 162.1,165.6,169.2,172.3,175.8,177.9,179.4,180.9,184,186,189.6,193.2,197.3,199.8,201.9,208,213.1,220.2,224.3,230.9,235.5,237.6,239.6,241.7,244.2,246.8,250.8,253.9,257,261.6,265.6,272.3,279.4,287.1,291.1,294.7,298.8,302.9,307.5]
low_blue = [-1.17,-1.17,-1.6,-1.85,-1.79,-1.04,-.6,-.85,-1.35,-1.39,-1.14,-1.42,-1.67,-1.29,-1.35,-1.35,-1.54,-1.42,-.63,-1.04,-1.19,-1.23,-1.52,-1.75,-1.17,.71,1.97,2.07,2.07,1.69,1.84,1.82,1.82,.84,.4,.9,1.84,2.12,1.65,1.57,1.94,1.47,1.53,.84,.71,
 -.16,-1.33,-1.29,-.79,-.94,-.29,-.14,-.41,-1.19,-.91,.96,1.97,2.03,1.9,2.19,1.84,2.24,2.31,1.4,.84,-1.1,-1.29,-1.1,-1.29,-.29,1.34,1.9,2.37,2.28,2.28,1.34,2.47,1.59,1.69,1.22,1.74,1.15,-.16,-1.29]

bars = list(range(len(highs)))
opens = [b if d == "G" else t for b, t, d in zip(body_bottoms, body_tops, directions)]
closes = [t if d == "G" else b for b, t, d in zip(body_bottoms, body_tops, directions)]


def dom(top, bottom):
    return [1 - bottom / H, 1 - top / H]


X_DOM = [3.5 / W, 1235 / W]
X_RANGE = [-0.125, 307.75]
AX = dict(range=X_RANGE, domain=X_DOM, showgrid=False, zeroline=False, showline=True, linecolor="white", linewidth=1, showticklabels=False, ticks="")
YB = dict(side="right", showgrid=False, zeroline=False, showline=True, linecolor="white", linewidth=1, mirror=True, ticks="outside", ticklen=3, tickcolor="white",
          tickmode="array", tickfont=dict(color="white", size=TXT, family=FONT))

fig = go.Figure()


def line(xs, ys, color, width=1, dash=None, xa="x", ya="y", smooth=False):
    style = dict(color=color, width=width, dash=dash)
    if smooth:
        style.update(shape="spline", smoothing=0.5)
    fig.add_trace(go.Scatter(x=xs, y=ys, mode="lines", line=style, xaxis=xa, yaxis=ya, hoverinfo="skip"))


def signal(xs, ys, colors, head, offset):
    fig.add_trace(go.Scatter(x=xs, y=ys, mode="markers", hoverinfo="skip", xaxis="x", yaxis="y",
                             marker=dict(symbol="line-ns", size=13, line=dict(color=colors, width=3))))
    fig.add_trace(go.Scatter(x=xs, y=[v + offset for v in ys], mode="markers", hoverinfo="skip", xaxis="x", yaxis="y",
                             marker=dict(symbol=head, size=7, line=dict(color=colors, width=2))))


for lev in fib_levels:
    line(X_RANGE, [lev, lev], SLATE, 2 if lev == 1179.5 else 1)
line(X_RANGE, [last_price, last_price], "#778899", 1)
line(trend_x, trend_y, "#0000ff", 1, "3px,4px")
line(bb_upper_x, bb_upper, SLATE, 2, smooth=True)
line(bb_lower_x, bb_lower, SLATE, 2, smooth=True)
line(bb_mid_x, bb_mid, "#1f4a24", 2, smooth=True)
fig.add_trace(go.Candlestick(x=bars, open=opens, high=highs, low=lows, close=closes, xaxis="x", yaxis="y",
                             increasing=dict(line=dict(color="#00ff00", width=1), fillcolor="#ffff00"),
                             decreasing=dict(line=dict(color="#ff0000", width=1), fillcolor="#ffff00"),
                             whiskerwidth=0, hoverinfo="skip"))
line(zigzag_x, zigzag_y, "#4b0082", 1)
signal(up_arrows_x, up_arrows_y, up_arrows_color, "y-up", 1.0)
signal(down_arrows_x, down_arrows_y, down_arrows_color, "y-down", -1.0)

# Fisher pane
fisher_cols = ["#00ff00" if v >= 0 else "#ff0000" for v in fisher_hist]
fig.add_trace(go.Bar(x=bars, y=fisher_hist, marker=dict(color=fisher_cols, line=dict(width=0)), width=0.75, xaxis="x2", yaxis="y2", hoverinfo="skip"))
for xs, ys in [(fisher_red_x, fisher_red), (fisher_yellow_x, fisher_yellow)]:
    fig.add_trace(go.Bar(x=xs, y=[v - fisher_base for v in ys], base=fisher_base, width=0.25,
                         marker=dict(color="#2f4f4f", line=dict(width=0)), xaxis="x2", yaxis="y2", hoverinfo="skip"))
line(X_RANGE, [fisher_base, fisher_base], "#808080", 1, None, "x2", "y2")
line(fisher_dots_x, fisher_dots, "#ffffff", 1, "dot", "x2", "y2")
line(fisher_yellow_x, fisher_yellow, "#ffc800", 4, None, "x2", "y2", smooth=True)
line(fisher_red_x, fisher_red, "#ff1a00", 2, None, "x2", "y2", smooth=True)

# OsMA pane
fig.add_trace(go.Bar(x=bars, y=osma_hist, marker=dict(color="#4169e1", line=dict(width=0)), width=0.75, xaxis="x3", yaxis="y3", hoverinfo="skip"))
for lev in stoch_levels:
    line(X_RANGE, [lev, lev], "#5500a5", 1, "3px,3px", "x3", "y6")
line(stoch_dots_x, stoch_dots, "#ffffff", 1, "dot", "x3", "y6")
line(stoch_teal_x, stoch_teal, "#20b2aa", 1, None, "x3", "y6")
line(stoch_red_x, stoch_red, "#ff0000", 1, None, "x3", "y6")
line(stoch_yellow_x, stoch_yellow, "#ffff00", 3, None, "x3", "y6")

# %R pane
line(wpr_cyan_x, wpr_cyan, "#00e5ee", 2, None, "x4", "y4")
line(wpr_center_x, wpr_center, "#c2b280", 3.5, None, "x4", "y4")
for xs, ys in [(wpr_up_outer_x, wpr_up_outer), (wpr_lo_outer_x, wpr_lo_outer), (wpr_up_inner_x, wpr_up_inner), (wpr_lo_inner_x, wpr_lo_inner)]:
    line(xs, ys, "#ff4500", 1, None, "x4", "y4", smooth=True)
line(wpr_dots_x, wpr_dots, "#ffffff", 1, "dot", "x4", "y4")

# bottom Fisher pane
fig.add_trace(go.Bar(x=bars, y=fisher_hist, marker=dict(color=fisher_cols, line=dict(width=0)), width=0.75, xaxis="x5", yaxis="y5", hoverinfo="skip"))
line(low_yellow_x, low_yellow, "#ffff00", 2.5, None, "x5", "y5", smooth=True)
line(low_blue_x, low_blue, "#00b4ff", 2.5, None, "x5", "y5", smooth=True)

ann = []
for name, lev in zip(fib_names, fib_levels):
    if name:
        ann.append(dict(x=307.3, y=lev, xref="x", yref="y", text=name, showarrow=False, xanchor="right", yshift=6,
                        font=dict(color="#3d5555", size=TXT, family=FONT)))
for x0, y0, x1, y1 in zip(arrow_x0, arrow_y0, arrow_x1, arrow_y1):
    ann.append(dict(x=x1, y=y1, ax=x0, ay=y0, xref="x", yref="y", axref="x", ayref="y", text="", showarrow=True,
                    arrowhead=2, arrowsize=0.9, arrowwidth=3, arrowcolor="#ff00ff", standoff=0))
titles = [("GOLD,H1", 17, 5), ("Fisher_Yur4ik -0.162", 5, 387), ("OsMA(5,12,3) 0.2764", 5, 503), ("%R(34) -87.3786", 5, 607), ("Fisher_Yur4ik -0.162", 5, 699)]
for t, px, py in titles:
    ann.append(dict(x=px / W, y=1 - py / H, xref="paper", yref="paper", text=t, showarrow=False, xanchor="left", yanchor="middle",
                    font=dict(color="white", size=TXT, family=FONT)))
ann.append(dict(x=10.5 / W, y=1 - 4.5 / H, xref="paper", yref="paper", text="▼", showarrow=False, xanchor="center", yanchor="middle",
                font=dict(color="white", size=8, family="DejaVu Sans")))
ann.append(dict(x=1257 / W, y=last_price, xref="paper", yref="y", text=f"{last_price:.2f}", showarrow=False, bgcolor="white", borderpad=0, width=40,
                xanchor="center", yanchor="middle", font=dict(color="black", size=TXT, family=FONT)))
ann.append(dict(x=1240 / W, y=fisher_base, xref="paper", yref="y2", text="0", showarrow=False, bgcolor="#808080", borderpad=0,
                xanchor="center", yanchor="middle", font=dict(color="black", size=9, family=FONT)))

fig.update_layout(
    width=W, height=H, autosize=False, margin=dict(l=0, r=0, t=0, b=0, autoexpand=False), paper_bgcolor="black", plot_bgcolor="black",
    showlegend=False, barmode="overlay", annotations=ann, boxgap=0.25,
    xaxis=dict(AX, anchor="y", rangeslider=dict(visible=False)),
    yaxis=dict(YB, domain=dom(0, 377), range=[1102.3, 1195.6], anchor="x", tickvals=price_ticks, ticktext=price_tick_text),
    xaxis2=dict(AX, anchor="y2", mirror=True, matches="x"),
    yaxis2=dict(YB, domain=dom(379, 492), range=[-2.21, 2.66], anchor="x2", tickvals=[2.369, 0, -1.95], ticktext=["2.369", "0.00", "-1.95"]),
    xaxis3=dict(AX, anchor="y3", mirror=True, matches="x"),
    yaxis3=dict(YB, domain=dom(494, 595), range=[-1.47, 4.62], anchor="x3", tickvals=[4.1846, 0, -1.08], ticktext=["4.1846", "0.00", "-1.3369"]),
    yaxis6=dict(YB, overlaying="y3", range=[0, 101], anchor="x3", showline=False, mirror=False, tickvals=stoch_levels, ticktext=["78", "32"]),
    xaxis4=dict(AX, anchor="y4", mirror=True, matches="x"),
    yaxis4=dict(YB, domain=dom(597, 688), range=[-108, 9.4], anchor="x4", tickvals=[0, -100], ticktext=["0", "-100"]),
    xaxis5=dict(AX, anchor="y5", mirror=True, matches="x", showticklabels=True, ticks="outside", ticklen=3, tickcolor="white",
                tickmode="array", tickvals=time_ticks, ticktext=time_labels, tickangle=0, ticklabelshift=28,
                tickfont=dict(color="white", size=TXT, family=FONT)),
    yaxis5=dict(YB, domain=dom(690, 818), range=[-2.14, 2.66], anchor="x5", tickvals=[2.369, 0, -1.95], ticktext=["2.369", "0.00", "-1.95"]),
)

fig.write_html("out.html", config=dict(displayModeBar=False),
               post_script="document.body.style.margin='0';document.body.style.background='black';document.documentElement.style.overflow='hidden';")
